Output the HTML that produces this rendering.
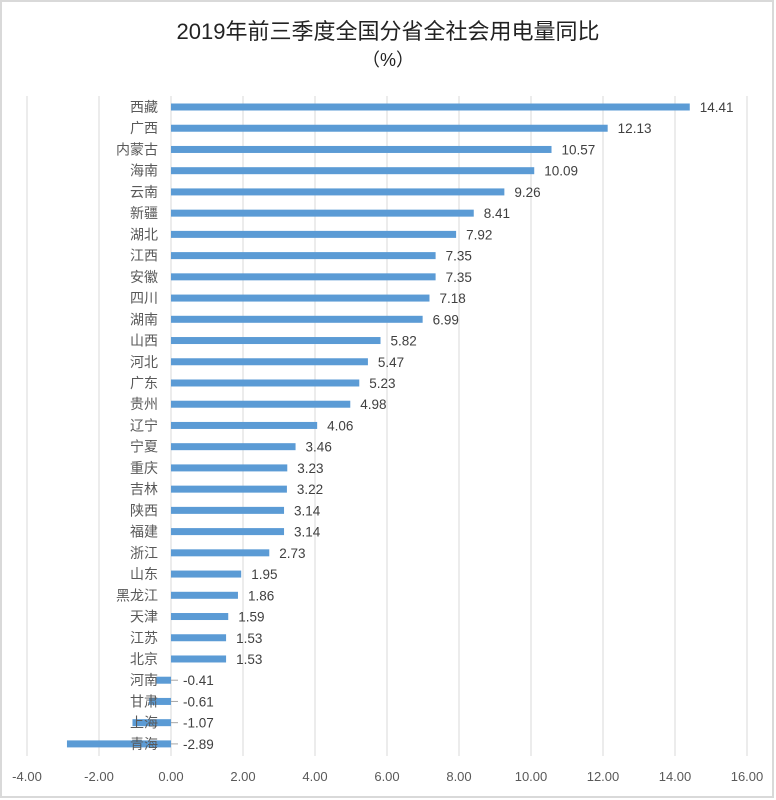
<!DOCTYPE html>
<html><head><meta charset="utf-8"><style>
body{margin:0;background:#fff}
svg{display:block;font-family:"Liberation Sans","Noto Sans CJK SC",sans-serif}
</style></head><body>
<svg id="s" width="776" height="800" viewBox="0 0 776 800">
<rect x="1" y="1" width="772" height="796" fill="#fff" stroke="#d9d9d9" stroke-width="2"/>
<text x="388" y="39" text-anchor="middle" font-size="22" fill="#222">2019年前三季度全国分省全社会用电量同比</text>
<text x="388" y="66" text-anchor="middle" font-size="18" fill="#222">（%）</text>
<g id="g"></g>
</svg>
<script>
var d=[["西藏",14.41],["广西",12.13],["内蒙古",10.57],["海南",10.09],["云南",9.26],["新疆",8.41],["湖北",7.92],["江西",7.35],["安徽",7.35],["四川",7.18],["湖南",6.99],["山西",5.82],["河北",5.47],["广东",5.23],["贵州",4.98],["辽宁",4.06],["宁夏",3.46],["重庆",3.23],["吉林",3.22],["陕西",3.14],["福建",3.14],["浙江",2.73],["山东",1.95],["黑龙江",1.86],["天津",1.59],["江苏",1.53],["北京",1.53],["河南",-0.41],["甘肃",-0.61],["上海",-1.07],["青海",-2.89]];
var x0=171,k=36,h="";
for(var v=-4;v<=16;v+=2){var x=x0+v*k;h+='<line x1="'+x+'" y1="96" x2="'+x+'" y2="756" stroke="#d9d9d9"/>';h+='<text x="'+x+'" y="781" text-anchor="middle" font-size="13" fill="#595959">'+v.toFixed(2)+'</text>';}
d.forEach(function(r,i){var y=107+i*21.23,v=r[1],xe=x0+v*k;
h+='<rect x="'+Math.min(x0,xe)+'" y="'+(y-3.5)+'" width="'+Math.abs(v*k)+'" height="7" fill="#5b9bd5"/>';
h+='<text x="158" y="'+(y+5)+'" text-anchor="end" font-size="14" fill="#595959">'+r[0]+'</text>';
var lx=v>=0?xe+10:x0+10;
if(v<0)h+='<line x1="'+(x0)+'" y1="'+y+'" x2="'+(x0+7)+'" y2="'+y+'" stroke="#a6a6a6"/>';
h+='<text x="'+(v<0?x0+12:lx)+'" y="'+(y+5)+'" font-size="13.5" fill="#404040">'+v.toFixed(2)+'</text>';});
document.getElementById("g").innerHTML=h;
</script>
</body></html>
